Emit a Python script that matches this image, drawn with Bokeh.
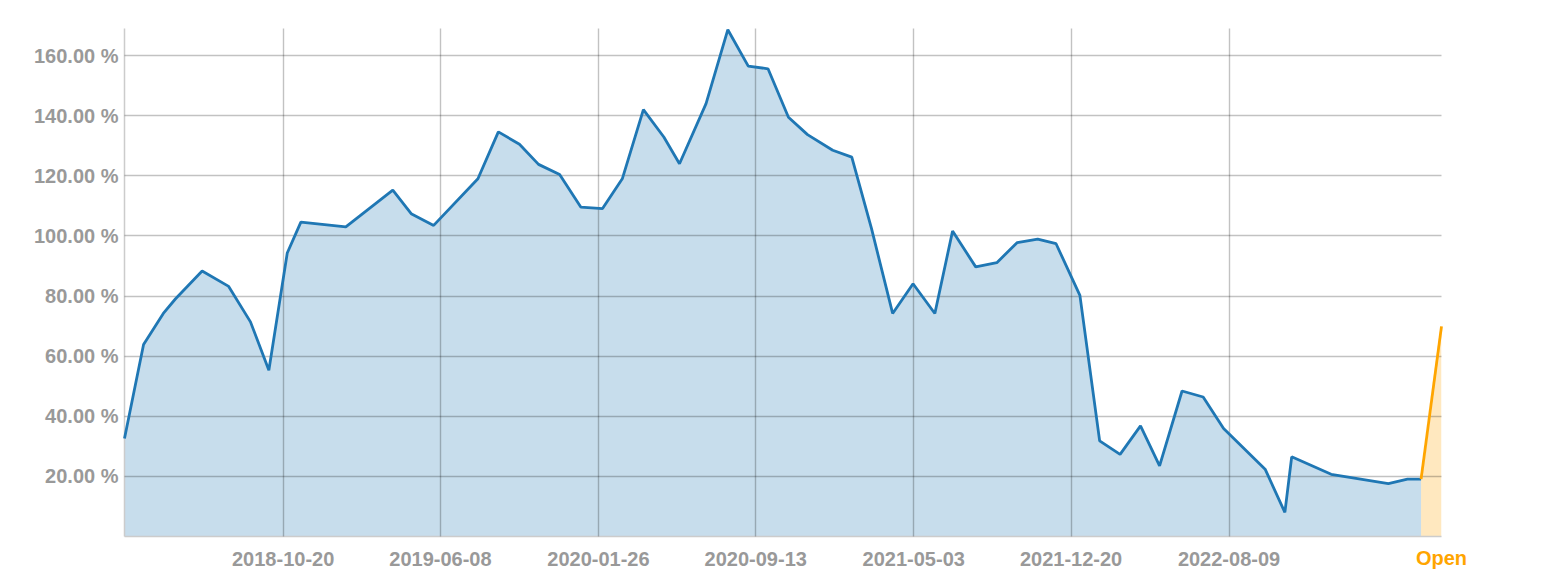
import pandas as pd
from bokeh.plotting import figure
from bokeh.models import (Range1d, FixedTicker, PrintfTickFormatter, DatetimeTickFormatter,
                          DatetimeAxis, CustomJSTickFormatter)
from bokeh.embed import file_html
from bokeh.resources import INLINE

dates = ["2018-03-01", "2018-03-29", "2018-04-27", "2018-05-15", "2018-06-23", "2018-08-01",
         "2018-09-02", "2018-09-29", "2018-10-26", "2018-11-15", "2019-01-20", "2019-03-30",
         "2019-04-26", "2019-05-29", "2019-08-02", "2019-09-01", "2019-10-02", "2019-10-30",
         "2019-11-30", "2019-12-31", "2020-02-01", "2020-03-01", "2020-04-01", "2020-05-01",
         "2020-05-24", "2020-07-02", "2020-08-03", "2020-09-02", "2020-10-01", "2020-10-31",
         "2020-11-28", "2021-01-04", "2021-02-01", "2021-03-02", "2021-04-02", "2021-05-02",
         "2021-06-03", "2021-06-29", "2021-08-02", "2021-09-02", "2021-10-02", "2021-11-01",
         "2021-11-28", "2022-01-02", "2022-01-31", "2022-03-02", "2022-04-01", "2022-04-29",
         "2022-06-01", "2022-07-02", "2022-08-01", "2022-10-01", "2022-10-30", "2022-11-09",
         "2023-01-06", "2023-03-31", "2023-04-28", "2023-05-18"]
values = [32.6, 63.9, 74.2, 79.1, 88.3, 83.2, 71.4, 55.3, 94.3, 104.6,
          103.0, 115.2, 107.4, 103.5, 119.0, 134.6, 130.5, 123.8, 120.4, 109.6,
          109.1, 119.0, 142.0, 132.9, 124.0, 144.0, 168.6, 156.5, 155.6, 139.5,
          133.7, 128.5, 126.2, 102.4, 74.2, 84.1, 74.2, 101.6, 89.7, 91.1,
          97.8, 98.9, 97.4, 80.2, 31.8, 27.3, 36.8, 23.5, 48.4, 46.4,
          35.9, 22.4, 8.0, 26.5, 20.7, 17.6, 19.1, 19.1]
open_date = "2023-06-17"
open_value = 69.9
open_label = "Open"
tick_dates = ["2018-10-20", "2019-06-08", "2020-01-26", "2020-09-13",
              "2021-05-03", "2021-12-20", "2022-08-09"]
y_ticks = [20, 40, 60, 80, 100, 120, 140, 160]

BLUE = "#1f77b4"
ORANGE = "#ffa500"
GRAY = "#999999"
FONT = "Liberation Sans"

def ms(d):
    return pd.Timestamp(d).value / 1e6

x = pd.to_datetime(dates)
xo = pd.to_datetime([dates[-1], open_date])
yo = [values[-1], open_value]

p = figure(frame_width=1317, frame_height=508, x_axis_type="datetime",
           output_backend="svg", toolbar_location=None,
           min_border_left=124, min_border_top=28, min_border_right=100, min_border_bottom=0,
           x_range=Range1d(start=ms(dates[0]), end=ms(open_date)),
           y_range=Range1d(start=0, end=169.0))
p.outline_line_color = None
p.background_fill_color = "white"
p.border_fill_color = "white"

a1 = p.varea(x=x, y1=0, y2=values, fill_color=BLUE, fill_alpha=0.25)
a2 = p.varea(x=xo, y1=0, y2=yo, fill_color=ORANGE, fill_alpha=0.25)
a1.level = "underlay"
a2.level = "underlay"
l1 = p.line(x, values, line_color=BLUE, line_width=2.8)
l2 = p.line(xo, yo, line_color=ORANGE, line_width=2.8)
l1.level = "annotation"
l2.level = "annotation"

p.xaxis.ticker = FixedTicker(ticks=[ms(d) for d in tick_dates])
p.xaxis.formatter = DatetimeTickFormatter(days="%Y-%m-%d", months="%Y-%m-%d", years="%Y-%m-%d")
p.yaxis.ticker = FixedTicker(ticks=y_ticks)
p.yaxis.formatter = PrintfTickFormatter(format="%.2f %%")

open_axis = DatetimeAxis(ticker=FixedTicker(ticks=[ms(open_date)]),
                         formatter=CustomJSTickFormatter(args=dict(lbl=open_label), code="return lbl;"))
p.add_layout(open_axis, "below")

for ax in (p.xaxis[0], p.yaxis[0], open_axis):
    ax.major_tick_line_color = None
    ax.minor_tick_line_color = None
    ax.major_tick_in = 0
    ax.minor_tick_in = 0
    ax.minor_tick_out = 0
    ax.axis_line_color = "#cccccc"
    ax.axis_line_width = 1.5
    ax.major_label_text_font = FONT
    ax.major_label_text_font_style = "bold"
    ax.major_label_text_font_size = "20px"
    ax.major_label_text_color = GRAY
p.xaxis[0].major_tick_out = 6
p.xaxis[0].major_label_standoff = 9
p.yaxis[0].major_tick_out = 0
p.yaxis[0].major_label_standoff = 6
open_axis.major_tick_out = 0
open_axis.major_label_standoff = -22
open_axis.axis_line_color = None
open_axis.major_label_text_color = ORANGE

for g in (p.xgrid[0], p.ygrid[0]):
    g.grid_line_color = "black"
    g.grid_line_alpha = 0.24
    g.grid_line_width = 1.4
    g.level = "guide"

open("out.html", "w").write(file_html(p, INLINE))
